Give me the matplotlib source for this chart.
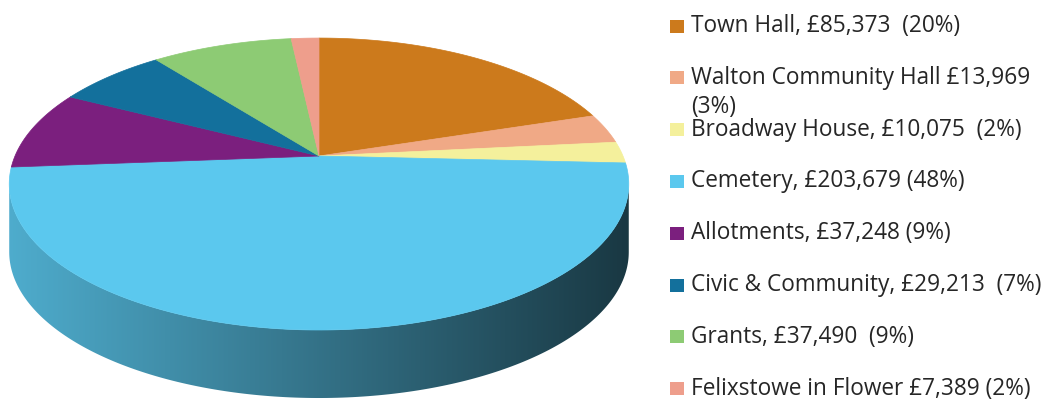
import numpy as np
import matplotlib.pyplot as plt
from matplotlib.patches import Polygon, Rectangle
from matplotlib.colors import to_rgb

# Data
labels = ['Town Hall, £85,373  (20%)',
          'Walton Community Hall £13,969\n(3%)',
          'Broadway House, £10,075  (2%)',
          'Cemetery, £203,679 (48%)',
          'Allotments, £37,248 (9%)',
          'Civic & Community, £29,213  (7%)',
          'Grants, £37,490  (9%)',
          'Felixstowe in Flower £7,389 (2%)']
values = [85373, 13969, 10075, 203679, 37248, 29213, 37490, 7389]
colors = ['#CC7A1C', '#F0A986', '#F4F09C', '#5BC8EE',
          '#7B1F7E', '#13709C', '#8DCB74', '#EE9E8C']

fig = plt.figure(figsize=(10.55, 4.01), dpi=100)
ax = fig.add_axes([0, 0, 1, 1])
ax.set_xlim(0, 1055)
ax.set_ylim(401, 0)
ax.axis('off')

# 3D pie geometry (pixels): perspective view of a disc
cx, cy = 319, 156
a, b, c = 304, 140.6, 0.192
depth = 68


def project(theta, drop=0.0):
    x = np.cos(theta)
    y = np.sin(theta)
    w = 1 + c * y
    return cx + a * x / w, cy - b * y / w + drop


fracs = np.array(values) / sum(values)
starts = np.pi / 2 - 2 * np.pi * np.concatenate([[0], np.cumsum(fracs)[:-1]])
ends = starts - 2 * np.pi * fracs

# side wall (front, visible part)
vis_lo = np.pi + np.arcsin(c)
vis_hi = 2 * np.pi - np.arcsin(c)
x_left, _ = project(vis_lo)
x_right, _ = project(vis_hi)
for s, e, col in zip(starts, ends, colors):
    for k in (-1, 0, 1, 2):
        lo = max(e + 2 * np.pi * k, vis_lo)
        hi = min(s + 2 * np.pi * k, vis_hi)
        if hi <= lo:
            continue
        th = np.linspace(lo, hi, 200)
        tx, ty = project(th)
        bx, by = project(th[::-1], depth)
        pts = np.column_stack([np.concatenate([tx, bx]), np.concatenate([ty, by])])
        poly = Polygon(pts, closed=True, facecolor='none', edgecolor='none')
        ax.add_patch(poly)
        t = np.linspace(0, 1, 256)
        base = np.array(to_rgb(col))
        shade = (0.86 - 0.58 * t)[:, None]
        grad = np.clip(base[None, :] * shade, 0, 1)[None, :, :]
        im = ax.imshow(grad, extent=[x_left, x_right, 401, 100],
                       aspect='auto', interpolation='bicubic', zorder=1)
        im.set_clip_path(poly)

ax.set_xlim(0, 1055)
ax.set_ylim(401, 0)

# top face slices
for s, e, col in zip(starts, ends, colors):
    th = np.linspace(s, e, 200)
    px, py = project(th)
    pts = np.column_stack([np.concatenate([[cx], px]), np.concatenate([[cy], py])])
    ax.add_patch(Polygon(pts, closed=True, facecolor=col, edgecolor=col,
                         linewidth=0.5, zorder=2))

# legend
row0, step = 26, 51.8
for i, (lab, col) in enumerate(zip(labels, colors)):
    y = row0 + i * step
    ax.add_patch(Rectangle((670, y - 6.5), 14, 13, facecolor=col,
                           edgecolor='none', zorder=3))
    for j, line in enumerate(lab.split('\n')):
        ax.text(691, y + j * 29, line, fontsize=16.3, family='Open Sans',
                color='#262626', va='center', ha='left', zorder=3)

fig.savefig('out.png', dpi=100)
